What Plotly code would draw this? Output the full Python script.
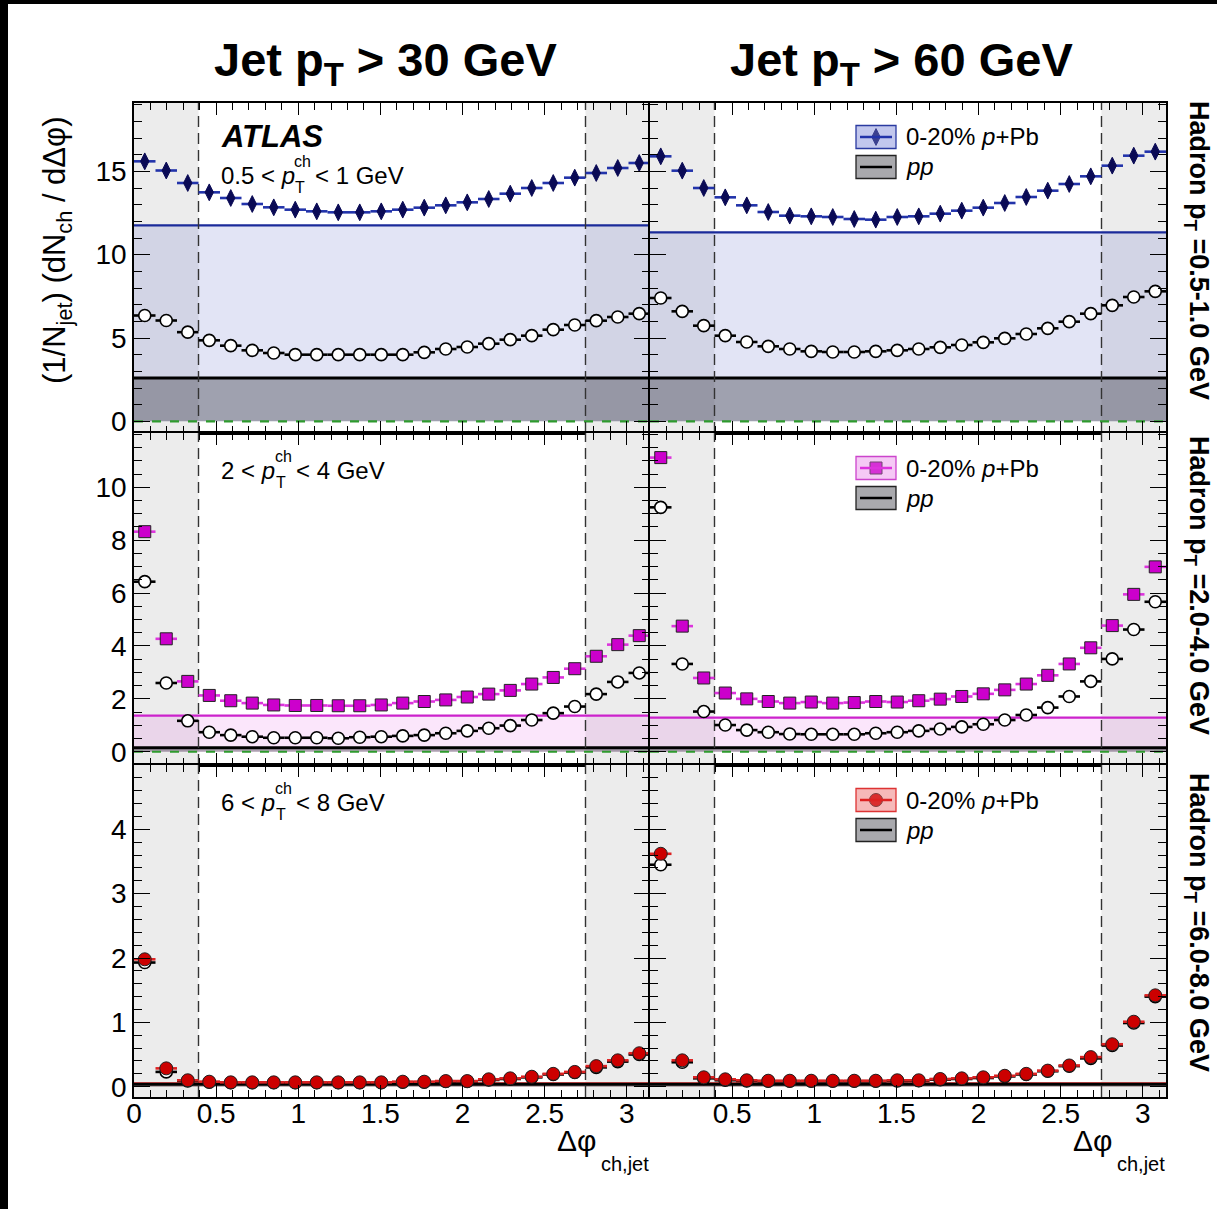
import math
import plotly.graph_objects as go

W, H = 1217, 1209

# ---------------- data ----------------
n_bins = 24
bin_w = math.pi / n_bins
dphi = [(i + 0.5) * bin_w for i in range(n_bins)]

# Jet pT > 30 GeV (left column)
ppb_30_low = [15.6, 15.05, 14.3, 13.74, 13.4, 13.04, 12.84, 12.7, 12.6, 12.54, 12.54, 12.6,
              12.7, 12.82, 12.96, 13.14, 13.34, 13.66, 14.0, 14.3, 14.62, 14.9, 15.2, 15.5]
pp_30_low = [6.35, 6.05, 5.35, 4.86, 4.54, 4.26, 4.1, 4.0, 4.0, 4.0, 4.0, 4.0,
             4.0, 4.14, 4.34, 4.46, 4.66, 4.9, 5.14, 5.5, 5.78, 6.04, 6.26, 6.46]
ppb_30_mid = [8.32, 4.27, 2.66, 2.13, 1.93, 1.84, 1.77, 1.75, 1.75, 1.74, 1.74, 1.77,
              1.84, 1.9, 1.96, 2.07, 2.18, 2.32, 2.56, 2.81, 3.14, 3.61, 4.05, 4.39]
pp_30_mid = [6.43, 2.6, 1.17, 0.74, 0.63, 0.57, 0.53, 0.53, 0.53, 0.51, 0.55, 0.57,
             0.6, 0.63, 0.7, 0.79, 0.89, 0.99, 1.2, 1.46, 1.71, 2.18, 2.64, 2.98]
ppb_30_high = [1.98, 0.285, 0.10, 0.078, 0.068, 0.068, 0.068, 0.068, 0.068, 0.068, 0.068, 0.068,
               0.078, 0.078, 0.088, 0.088, 0.115, 0.13, 0.155, 0.2, 0.23, 0.32, 0.41, 0.52]
pp_30_high = [1.93, 0.23, 0.09, 0.07, 0.062, 0.062, 0.062, 0.062, 0.062, 0.062, 0.062, 0.062,
              0.07, 0.07, 0.08, 0.082, 0.105, 0.12, 0.145, 0.19, 0.22, 0.3, 0.39, 0.5]

# Jet pT > 60 GeV (right column)
ppb_60_low = [15.9, 15.04, 14.0, 13.44, 12.96, 12.56, 12.34, 12.3, 12.26, 12.14, 12.1, 12.26,
              12.3, 12.46, 12.64, 12.82, 13.1, 13.46, 13.84, 14.24, 14.7, 15.34, 15.94, 16.18]
pp_60_low = [7.4, 6.6, 5.74, 5.14, 4.76, 4.5, 4.34, 4.2, 4.16, 4.16, 4.2, 4.26,
             4.34, 4.44, 4.58, 4.74, 4.98, 5.24, 5.58, 5.98, 6.46, 6.96, 7.46, 7.8]
ppb_60_mid = [11.12, 4.75, 2.79, 2.22, 2.0, 1.9, 1.84, 1.88, 1.84, 1.86, 1.9, 1.88,
              1.93, 1.99, 2.09, 2.19, 2.34, 2.56, 2.89, 3.32, 3.93, 4.77, 5.95, 6.99]
pp_60_mid = [9.24, 3.32, 1.52, 1.01, 0.82, 0.74, 0.67, 0.66, 0.66, 0.66, 0.70, 0.74,
             0.79, 0.86, 0.94, 1.04, 1.2, 1.39, 1.67, 2.09, 2.66, 3.51, 4.62, 5.67]
ppb_60_high = [3.62, 0.41, 0.146, 0.115, 0.10, 0.093, 0.093, 0.093, 0.093, 0.093, 0.093, 0.10,
               0.10, 0.12, 0.13, 0.146, 0.17, 0.2, 0.25, 0.33, 0.46, 0.66, 1.01, 1.42]
pp_60_high = [3.45, 0.38, 0.13, 0.1, 0.09, 0.085, 0.085, 0.085, 0.085, 0.085, 0.085, 0.09,
              0.092, 0.11, 0.12, 0.135, 0.16, 0.19, 0.24, 0.32, 0.44, 0.64, 0.99, 1.4]

# background (UE) levels [left, right]
bkg_ppb = {"low": [11.76, 11.34], "mid": [1.37, 1.29], "high": [0.06, 0.06]}
bkg_pp = {"low": [2.6, 2.6], "mid": [0.15, 0.15], "high": [0.04, 0.04]}

col_titles = ["Jet p<sub>T</sub> > 30 GeV", "Jet p<sub>T</sub> > 60 GeV"]
row_labels = ["Hadron p<sub>T</sub> =0.5-1.0 GeV", "Hadron p<sub>T</sub> =2.0-4.0 GeV",
              "Hadron p<sub>T</sub> =6.0-8.0 GeV"]
ch_ranges = [("0.5", "1"), ("2", "4"), ("6", "8")]
legend_ppb = "0-20% <i>p</i>+Pb"
legend_pp = "<i>pp</i>"

# ---------------- style ----------------
row_keys = ["low", "mid", "high"]
series = {
    ("low", 0): (ppb_30_low, pp_30_low), ("low", 1): (ppb_60_low, pp_60_low),
    ("mid", 0): (ppb_30_mid, pp_30_mid), ("mid", 1): (ppb_60_mid, pp_60_mid),
    ("high", 0): (ppb_30_high, pp_30_high), ("high", 1): (ppb_60_high, pp_60_high),
}
y_ranges = [[-0.7, 19.1], [-0.5, 12.05], [-0.16, 5.0]]
y_tickvals = [[0, 5, 10, 15], [0, 2, 4, 6, 8, 10], [0, 1, 2, 3, 4]]
y_dtick_minor = [1, 0.5, 0.2]
row_px = [(103, 433), (433, 765), (765, 1097)]
col_px = [(134, 650), (650, 1166)]

ppb_style = [
    dict(symbol="diamond-tall", size=12, color="#0a0a55", line=dict(color="#0a0a55", width=1),
         bar="#2233aa", band="rgba(110,120,205,0.20)", bandline="#1a2a9a"),
    dict(symbol="square", size=12, color="#cc00cc", line=dict(color="#222", width=1),
         bar="#dd33dd", band="rgba(225,90,225,0.15)", bandline="#cc22cc"),
    dict(symbol="circle", size=13, color="#cc0000", line=dict(color="#222", width=1),
         bar="#dd2222", band="rgba(220,60,60,0.15)", bandline="#dd2222"),
]
FONT = "Liberation Sans, Arial, Helvetica, sans-serif"


def px(x):
    return x / W


def py(y):
    return 1 - y / H


fig = go.Figure()
shapes = []
annotations = []
layout_axes = {}

for r in range(3):
    for c in range(2):
        k = r * 2 + c + 1
        xs = "" if k == 1 else str(k)
        xname, yname = "x" + xs, "y" + xs
        key = row_keys[r]
        yr = y_ranges[r]
        st = ppb_style[r]

        x_labels = r == 2
        if c == 0:
            xt = [0, 0.5, 1, 1.5, 2, 2.5, 3]
        else:
            xt = [0.5, 1, 1.5, 2, 2.5, 3]
        layout_axes["xaxis" + xs] = dict(
            domain=[px(col_px[c][0]), px(col_px[c][1])], range=[0, math.pi], anchor=yname,
            showline=True, linecolor="black", linewidth=1.5, mirror="ticks",
            ticks="inside", ticklen=12, tickwidth=1.3, tickcolor="black",
            tickmode="array", tickvals=xt, ticktext=[("%g" % v) for v in xt],
            showticklabels=x_labels, tickfont=dict(size=28, family=FONT, color="black"),
            ticklabelstandoff=-9,
            minor=dict(ticks="inside", tickmode="linear", tick0=0, dtick=0.1, ticklen=7,
                       tickwidth=1, tickcolor="black"),
            showgrid=False, zeroline=False, automargin=False, fixedrange=True,
        )
        layout_axes["yaxis" + xs] = dict(
            domain=[py(row_px[r][1]), py(row_px[r][0])], range=yr, anchor=xname,
            showline=True, linecolor="black", linewidth=1.5, mirror="ticks",
            ticks="inside", ticklen=16, tickwidth=1.3, tickcolor="black",
            tickmode="array", tickvals=y_tickvals[r], ticktext=[str(v) for v in y_tickvals[r]],
            showticklabels=(c == 0), tickfont=dict(size=28, family=FONT, color="black"),
            minor=dict(ticks="inside", tickmode="linear", tick0=0, dtick=y_dtick_minor[r],
                       ticklen=8, tickwidth=1, tickcolor="black"),
            showgrid=False, zeroline=False, automargin=False, fixedrange=True,
        )

        # gray side regions
        for (a, b) in [(0, math.pi / 8), (7 * math.pi / 8, math.pi)]:
            shapes.append(dict(type="rect", xref=xname, yref=yname, x0=a, x1=b, y0=yr[0], y1=yr[1],
                               fillcolor="#ececec", line=dict(width=0), layer="below"))
        # background bands (from zero up to the level)
        lvl = bkg_ppb[key][c]
        shapes.append(dict(type="rect", xref=xname, yref=yname, x0=0, x1=math.pi, y0=0, y1=lvl,
                           fillcolor=st["band"], line=dict(width=0), layer="below"))
        lvl_pp = bkg_pp[key][c]
        shapes.append(dict(type="rect", xref=xname, yref=yname, x0=0, x1=math.pi, y0=0, y1=lvl_pp,
                           fillcolor="rgba(60,60,70,0.40)", line=dict(width=0), layer="below"))
        # green dashed zero line
        if r < 2:
            shapes.append(dict(type="line", xref=xname, yref=yname, x0=0, x1=math.pi, y0=0, y1=0,
                               line=dict(color="#2e9a2e", width=2.2, dash="dash"), layer="below"))
        shapes.append(dict(type="line", xref=xname, yref=yname, x0=0, x1=math.pi, y0=lvl, y1=lvl,
                           line=dict(color=st["bandline"], width=2.2 if r < 2 else 1.2), layer="below"))
        shapes.append(dict(type="line", xref=xname, yref=yname, x0=0, x1=math.pi, y0=lvl_pp, y1=lvl_pp,
                           line=dict(color="black", width=3), layer="below"))
        # dashed vertical lines
        for xv in [math.pi / 8, 7 * math.pi / 8]:
            shapes.append(dict(type="line", xref=xname, yref=yname, x0=xv, x1=xv, y0=yr[0], y1=yr[1],
                               line=dict(color="#333", width=1.4, dash="11px,6px"), layer="below"))

        ppb_vals, pp_vals = series[(key, c)]
        fig.add_trace(go.Scatter(
            x=dphi, y=pp_vals, xaxis=xname, yaxis=yname, mode="markers",
            marker=dict(symbol="circle", size=12, color="white", line=dict(color="black", width=1.6)),
            error_x=dict(type="data", array=[bin_w / 2] * n_bins, symmetric=True, width=0,
                         thickness=2.6, color="black"),
            showlegend=False, cliponaxis=False))
        fig.add_trace(go.Scatter(
            x=dphi, y=ppb_vals, xaxis=xname, yaxis=yname, mode="markers",
            marker=dict(symbol=st["symbol"], size=st["size"], color=st["color"], line=st["line"]),
            error_x=dict(type="data", array=[bin_w / 2] * n_bins, symmetric=True, width=0,
                         thickness=2.6, color=st["bar"]),
            showlegend=False, cliponaxis=False))

# ---------------- text ----------------
for c in range(2):
    annotations.append(dict(text="<b>" + col_titles[c] + "</b>", x=px((col_px[c][0] + col_px[c][1]) / 2 - 7),
                            y=py(63), xref="paper", yref="paper", showarrow=False,
                            font=dict(size=47, family=FONT, color="black"), xanchor="center", yanchor="middle"))

row_label_y = [250, 585, 922]
for r in range(3):
    annotations.append(dict(text="<b>" + row_labels[r] + "</b>", x=px(1197), y=py(row_label_y[r]),
                            xref="paper", yref="paper", showarrow=False, textangle=90,
                            font=dict(size=27, family=FONT, color="black"), xanchor="center", yanchor="middle"))

annotations.append(dict(text="<b><i>ATLAS</i></b>", x=px(219), y=py(137), xref="paper", yref="paper",
                        showarrow=False, font=dict(size=31, family=FONT, color="black"),
                        xanchor="left", yanchor="middle"))

ch_y = [175, 470, 802]
for r in range(3):
    lo, hi = ch_ranges[r]
    pre = lo + " < <i>p</i>"
    pre_w = (len(lo) * 0.52 + 0.278 + 0.584 + 0.278 + 0.556) * 24
    if "." in lo:
        pre_w -= 0.26 * 24
    x0 = 219
    yc = ch_y[r]
    annotations.append(dict(text=pre, x=px(x0), y=py(yc), xref="paper", yref="paper", showarrow=False,
                            font=dict(size=24, family=FONT, color="black"), xanchor="left", yanchor="middle"))
    xs_ = x0 + pre_w + 1
    annotations.append(dict(text="ch", x=px(xs_), y=py(yc - 14), xref="paper", yref="paper", showarrow=False,
                            font=dict(size=16, family=FONT, color="black"), xanchor="left", yanchor="middle"))
    annotations.append(dict(text="T", x=px(xs_ + 1), y=py(yc + 12), xref="paper", yref="paper", showarrow=False,
                            font=dict(size=16, family=FONT, color="black"), xanchor="left", yanchor="middle"))
    annotations.append(dict(text="< " + hi + " GeV", x=px(xs_ + 21), y=py(yc), xref="paper", yref="paper",
                            showarrow=False, font=dict(size=24, family=FONT, color="black"),
                            xanchor="left", yanchor="middle"))

# y-axis title
annotations.append(dict(text="(1/N<sub>jet</sub>) (dN<sub>ch</sub> / dΔφ)", x=px(57), y=py(250),
                        xref="paper", yref="paper", showarrow=False, textangle=-90,
                        font=dict(size=31, family=FONT, color="black"), xanchor="center", yanchor="middle"))
# x-axis titles
for c in range(2):
    xr = col_px[c][1]
    annotations.append(dict(text="Δφ", x=px(xr - 51), y=py(1140), xref="paper", yref="paper",
                            showarrow=False, font=dict(size=30, family=FONT, color="black"),
                            xanchor="right", yanchor="middle"))
    annotations.append(dict(text="ch,jet", x=px(xr - 51), y=py(1164), xref="paper", yref="paper",
                            showarrow=False, font=dict(size=20, family=FONT, color="black"),
                            xanchor="left", yanchor="middle"))

# ---------------- legends (right column) ----------------
leg_y = [(137, 167), (468, 498), (800, 830)]
leg_fill = ["rgba(120,130,215,0.45)", "rgba(230,120,230,0.40)", "rgba(235,100,100,0.45)"]
leg_border = ["#2a3aa0", "#cc44cc", "#dd3333"]
lx0, lx1 = 856, 896
for r in range(3):
    st = ppb_style[r]
    y1, y2 = leg_y[r]
    shapes.append(dict(type="rect", xref="paper", yref="paper", x0=px(lx0), x1=px(lx1),
                       y0=py(y1 + 11.5), y1=py(y1 - 11.5), fillcolor=leg_fill[r],
                       line=dict(color=leg_border[r], width=1.3)))
    shapes.append(dict(type="line", xref="paper", yref="paper", x0=px(lx0 + 4), x1=px(lx1 - 4),
                       y0=py(y1), y1=py(y1), line=dict(color=st["bar"], width=2.5)))
    shapes.append(dict(type="rect", xref="paper", yref="paper", x0=px(lx0), x1=px(lx1),
                       y0=py(y2 + 11.5), y1=py(y2 - 11.5), fillcolor="#a9a9ad",
                       line=dict(color="#222", width=1.3)))
    shapes.append(dict(type="line", xref="paper", yref="paper", x0=px(lx0 + 4), x1=px(lx1 - 4),
                       y0=py(y2), y1=py(y2), line=dict(color="black", width=2.5)))
    annotations.append(dict(text=legend_ppb, x=px(904), y=py(y1), xref="paper", yref="paper",
                            showarrow=False, font=dict(size=24, family=FONT, color="black"),
                            xanchor="left", yanchor="middle"))
    annotations.append(dict(text=legend_pp, x=px(904), y=py(y2), xref="paper", yref="paper",
                            showarrow=False, font=dict(size=24, family=FONT, color="black"),
                            xanchor="left", yanchor="middle"))
    # glyphs on an overlay pixel axis
    fig.add_trace(go.Scatter(x=[(lx0 + lx1) / 2], y=[y1], xaxis="x7", yaxis="y7", mode="markers",
                             marker=dict(symbol=st["symbol"], size=st["size"], color=st["color"], line=st["line"]),
                             showlegend=False))
    fig.add_trace(go.Scatter(x=[(lx0 + lx1) / 2], y=[y2], xaxis="x7", yaxis="y7", mode="markers",
                             marker=dict(symbol="circle-cross-open", size=13, color="black",
                                         line=dict(color="black", width=1.5)),
                             showlegend=False))

layout_axes["xaxis7"] = dict(domain=[0, 1], range=[0, W], anchor="y7", visible=False, fixedrange=True)
layout_axes["yaxis7"] = dict(domain=[0, 1], range=[H, 0], anchor="x7", visible=False, fixedrange=True)

# black frame edges of the original picture
shapes.append(dict(type="rect", xref="paper", yref="paper", x0=0, x1=px(8), y0=0, y1=1,
                   fillcolor="black", line=dict(width=0)))
shapes.append(dict(type="rect", xref="paper", yref="paper", x0=0, x1=1, y0=py(4), y1=1,
                   fillcolor="black", line=dict(width=0)))

fig.update_layout(
    width=W, height=H, margin=dict(l=0, r=0, t=0, b=0),
    paper_bgcolor="white", plot_bgcolor="rgba(0,0,0,0)",
    font=dict(family=FONT, color="black"),
    shapes=shapes, annotations=annotations, showlegend=False,
    **layout_axes,
)

fig.write_html("out.html")
